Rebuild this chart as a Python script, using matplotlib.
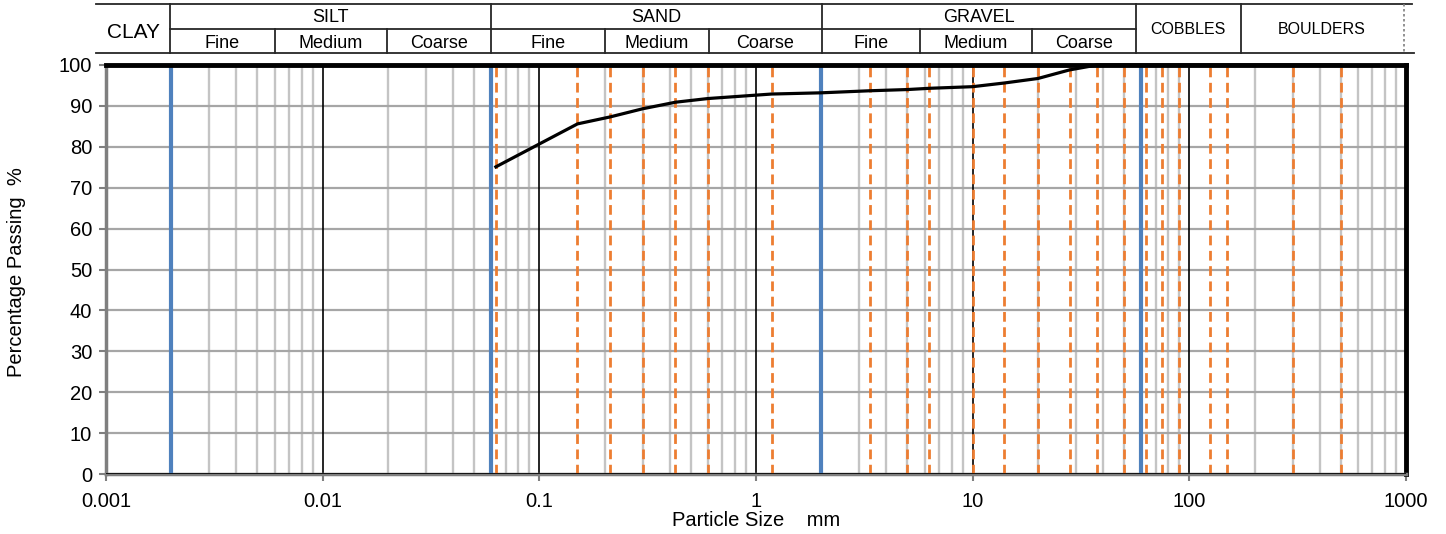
import matplotlib
matplotlib.use('Agg')
import matplotlib.pyplot as plt
import numpy as np

plt.rcParams['font.family'] = ['Liberation Sans', 'DejaVu Sans']

# sieve sizes (mm) and percentage passing
sieve_sizes = [0.063, 0.15, 0.212, 0.3, 0.425, 0.6, 1.18, 2, 3.35, 5, 6.3, 10, 14, 20, 28, 37.5,
               50, 63, 75, 90, 125, 150, 300, 500]
passing = [75.1, 85.6, 87.3, 89.3, 90.9, 91.8, 92.9, 93.2, 93.7, 94.0, 94.3, 94.7, 95.6, 96.7, 98.8, 100,
           100, 100, 100, 100, 100, 100, 100, 100]

# sieves drawn as orange dashed lines (no 2 mm line there)
sieve_lines = [0.063, 0.15, 0.212, 0.3, 0.425, 0.6, 1.18, 3.35, 5, 6.3, 10, 14, 20, 28, 37.5,
               50, 63, 75, 90, 125, 150, 300, 500]
# main classification boundaries (blue)
boundaries = [0.002, 0.06, 2, 60]

xticks = [0.001, 0.01, 0.1, 1, 10, 100, 1000]
xtick_labels = ['0.001', '0.01', '0.1', '1', '10', '100', '1000']
yticks = list(range(0, 101, 10))

W, H = 1446, 534
fig = plt.figure(figsize=(W / 100, H / 100), dpi=100)
ax = fig.add_axes([106 / W, (H - 474) / H, 1300 / W, 409 / H])

ax.set_xscale('log')
ax.set_xlim(0.001, 1000)
ax.set_ylim(0, 100)

# minor vertical grid
for dec in [0.001, 0.01, 0.1, 1, 10, 100]:
    for m in range(2, 10):
        ax.axvline(dec * m, color='#c4c4c4', lw=1.7, zorder=1)
# decade lines
for d in [0.01, 0.1, 1, 10, 100]:
    ax.axvline(d, color='black', lw=1.2, zorder=2)
# horizontal grid
for y in yticks[1:-1]:
    ax.axhline(y, color='#a6a6a6', lw=1.6, zorder=1)

for s in sieve_lines:
    ax.axvline(s, color='#ed7d31', lw=2, ls=(0, (3.5, 2)), zorder=3)
for b in boundaries:
    ax.axvline(b, color='#4f81bd', lw=3, zorder=4)

ax.plot(sieve_sizes, passing, color='black', lw=2.3, zorder=5, clip_on=False)

ax.axhline(0, color='black', lw=1.2, zorder=6)
ax.axhline(100, color='black', lw=3.5, zorder=6, clip_on=False)

for sp in ['left', 'bottom']:
    ax.spines[sp].set_color('#7f7f7f')
    ax.spines[sp].set_linewidth(2.5)
ax.spines['right'].set_color('black')
ax.spines['right'].set_linewidth(3.5)
ax.spines['top'].set_visible(False)

ax.set_xticks(xticks)
ax.set_xticklabels(xtick_labels)
ax.xaxis.set_minor_locator(matplotlib.ticker.NullLocator())
ax.set_yticks(yticks)
ax.tick_params(axis='both', direction='out', color='#7f7f7f', width=1.5, length=5, labelsize=14.5)
ax.tick_params(axis='x', pad=8)
ax.tick_params(axis='y', pad=5)

fig.text(756 / W, 1 - 520 / H, 'Particle Size    mm', ha='center', va='center', fontsize=14.5)
fig.text(17 / W, 1 - 272 / H, 'Percentage Passing  %', ha='center', va='center', rotation=90, fontsize=14.5)

# header classification table, drawn in pixel coordinates
hx = fig.add_axes([0, 0, 1, 1])
hx.set_xlim(0, W)
hx.set_ylim(H, 0)
hx.axis('off')
lc = '#262626'
hx.plot([96, 1412], [4, 4], color=lc, lw=1.3)
hx.plot([170, 1136], [29, 29], color=lc, lw=1.3)
hx.plot([96, 1414], [53, 53], color=lc, lw=1.3)
for x in [170, 491, 822, 1136, 1241]:
    hx.plot([x, x], [4, 53], color=lc, lw=1.3)
for x in [275, 387, 605, 709, 920, 1032]:
    hx.plot([x, x], [29, 53], color=lc, lw=1.3)
hx.plot([1404, 1404], [4, 53], color='#7f7f7f', lw=1.2, ls=(0, (1.5, 1.5)))

hx.text(133, 33, 'CLAY', ha='center', va='center', fontsize=15)
for x, t in [(330, 'SILT'), (656, 'SAND'), (979, 'GRAVEL')]:
    hx.text(x, 18, t, ha='center', va='center', fontsize=13)
for x in [(170, 275, 387, 491), (491, 605, 709, 822), (822, 920, 1032, 1136)]:
    for i, t in enumerate(['Fine', 'Medium', 'Coarse']):
        hx.text((x[i] + x[i + 1]) / 2, 43.5, t, ha='center', va='center', fontsize=13)
hx.text(1188, 29, 'COBBLES', ha='center', va='center', fontsize=11.5)
hx.text(1322, 30, 'BOULDERS', ha='center', va='center', fontsize=11.5)

fig.savefig('out.png', dpi=100)
